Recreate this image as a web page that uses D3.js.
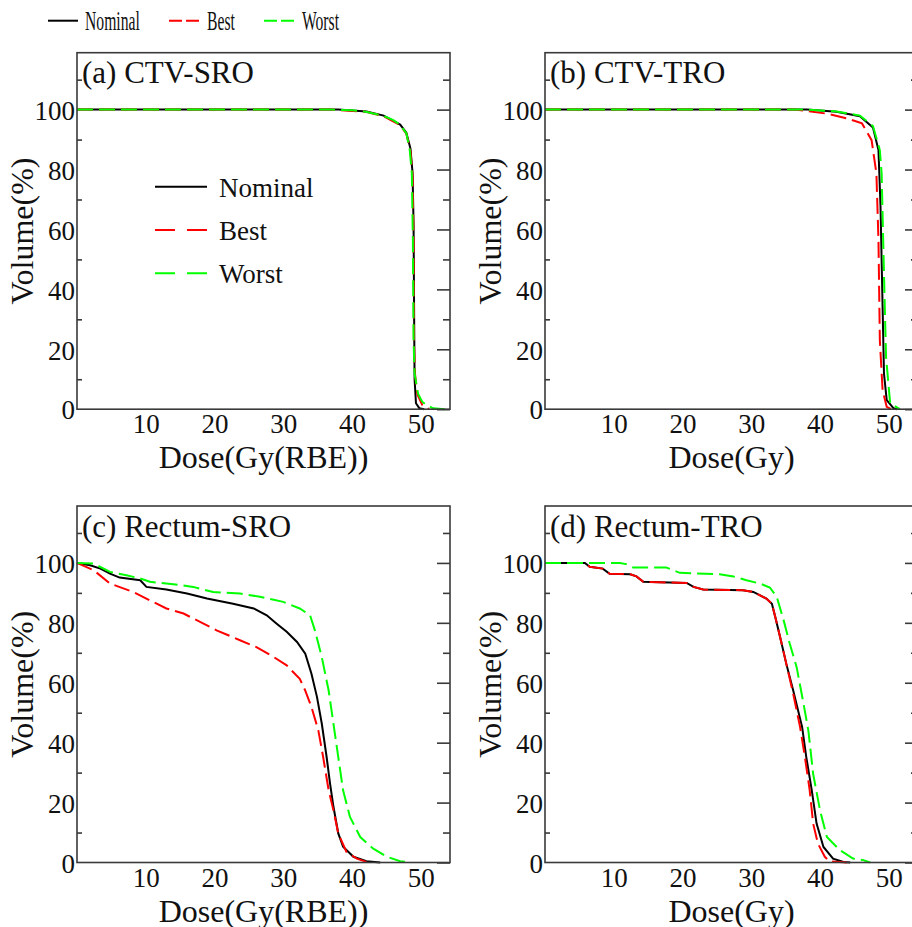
<!DOCTYPE html>
<html>
<head>
<meta charset="utf-8">
<script src="https://cdn.jsdelivr.net/npm/d3@7"></script>
<style>
  body { margin: 0; background: #fff; }
  svg { display: block; font-family: "Liberation Serif", "Times New Roman", serif; }
</style>
</head>
<body>
<div id="chart"></div>
<script>
// ---- data: [dose, volume %] ----
const ctvSroNominal = [[0,100],[38,100],[42.1,99.4],[44.6,98],[47,95],[47.9,92.3],[48.5,87],[48.8,79],[48.95,62],[49.05,25],[49.1,10],[49.3,2],[49.8,0.3],[50.5,0]]
const ctvSroBest = [[0,100],[37,100],[42,99.3],[44.6,97.8],[47,94.8],[47.9,92],[48.5,86],[48.8,78],[48.95,56],[49.0,23],[49.15,12],[49.5,5],[50.2,1.5],[51.2,0]]
const ctvSroWorst = [[0,100],[37,100],[40,99.8],[42,99.3],[44.6,97.9],[46,96.5],[47,94.9],[47.9,92.1],[48.4,86.5],[48.7,78.7],[48.85,56.5],[48.95,23],[49.1,11.9],[49.6,5.2],[50.2,2.5],[50.9,1.3],[51.8,0.3],[53.5,0]]

const ctvTroNominal = [[0,100],[38.1,100],[42.4,99.3],[45.8,97.8],[47.7,94],[48.5,86.5],[48.8,67.6],[49.1,34.2],[49.3,11.9],[49.7,3],[50.7,0.3],[51.2,0]]
const ctvTroBest = [[0,100],[36.4,100],[41.2,98.6],[44,97],[46.1,95.4],[47.5,89.8],[48.2,78.7],[48.5,56.5],[48.7,23],[49.1,6.3],[49.7,0.8],[50.4,0]]
const ctvTroWorst = [[0,100],[38.1,100],[42.4,99.4],[45.8,98],[47.7,94.5],[48.7,86.5],[48.96,78.7],[49.3,45.3],[49.6,17.5],[50.2,2],[51.6,0]]

const rectumSroNominal = [[0,100],[1.9,99.2],[3.4,98.1],[4.8,96.4],[6.2,95.1],[9.2,94.2],[10.1,92],[13,91.1],[16,89.8],[18.9,88.1],[22.7,86.4],[25.7,84.8],[27.6,82.5],[29,79.8],[30.5,77],[32,73.6],[33.2,69.7],[34.1,63],[34.9,55.3],[35.6,46.4],[36.3,35.3],[36.8,26.4],[37.3,18.6],[38,9.7],[38.7,5.3],[40.2,1.9],[42.1,0.4],[44.1,0]]
const rectumSroBest = [[0,100],[2.4,97.6],[4.8,93.1],[8.2,90.3],[10.6,87.5],[13,84.8],[15.5,83.1],[17.9,80.3],[20.3,77.5],[23.7,74.2],[26.1,71.9],[28.6,68.6],[30.5,65.8],[32.4,61.3],[33.2,57.4],[34.1,51.9],[35.1,44.1],[35.8,35.2],[36.6,24.1],[37.3,17.4],[38,9.7],[39.2,3.5],[40.7,1.3],[42.1,0.2],[42.6,0]]
const rectumSroWorst = [[0,100],[2.4,99.8],[4.8,97],[7.2,95.9],[9.2,94.8],[10.6,93.7],[14,92.9],[16.9,92],[19.8,90.3],[23.7,89.8],[26.6,88.7],[30,87],[32.4,84.8],[33.9,82.5],[34.6,77.5],[35.6,68.6],[36.6,57.4],[37.3,46.3],[38,35.2],[38.7,24.1],[39.7,15.2],[41.2,8.5],[43.1,4.6],[45.1,1.9],[47,0.4],[48.5,0]]

const rectumTroNominal = [[0,100],[5.8,100],[6.5,98.7],[8.4,98.1],[9.4,96.4],[12.4,96.2],[13.3,95.5],[14.3,93.7],[20.6,93.3],[21.6,92],[23,91.1],[28.8,90.9],[30.3,90.3],[32.2,88.1],[33,86.4],[33.5,81.9],[34.2,75.2],[35.1,66.3],[36.1,57.4],[37.4,45.2],[38,35.2],[38.8,24.1],[39.5,13],[40.5,5.2],[41.9,1.3],[43.4,0.2],[44.4,0]]
const rectumTroBest = [[0,100],[5.8,100],[6.5,98.7],[8.4,98.1],[9.4,96.4],[12.4,96.2],[13.3,95.5],[14.3,93.7],[20.6,93.3],[21.6,92],[23,91.1],[28.8,90.9],[30.3,90.3],[32.2,88.1],[33,86.4],[33.5,81.9],[34.2,75.2],[35.1,66.3],[36.1,56.3],[37.1,45.2],[37.8,35.2],[38.5,24.1],[39,13],[39.7,6.3],[40.7,1.9],[41.4,0.4],[43.9,0]]
const rectumTroWorst = [[0,100],[10.9,100],[11.8,99.6],[12.8,98.5],[17.6,98.5],[19.6,96.7],[25.4,96.2],[27.4,95.5],[29.3,94.2],[31.3,93.1],[32.7,91.8],[33.7,88.7],[34.7,80.9],[35.6,73],[36.6,65.2],[37.6,53],[38.3,44.1],[39,29.6],[40,17.4],[41,8.5],[42.9,4.1],[44.8,1.3],[46.3,0.8],[47.3,0]]

const seriesNames = ["Nominal", "Best", "Worst"]
const xTickValues = [10, 20, 30, 40, 50]
const yTickValues = [0, 20, 40, 60, 80, 100]
const yMinorTicks = [10, 30, 50, 70, 90, 110]

const panels = [
    {title: "(a) CTV-SRO", xLabel: "Dose(Gy(RBE))", series: [ctvSroNominal, ctvSroBest, ctvSroWorst], legend: true},
    {title: "(b) CTV-TRO", xLabel: "Dose(Gy)", series: [ctvTroNominal, ctvTroBest, ctvTroWorst]},
    {title: "(c) Rectum-SRO", xLabel: "Dose(Gy(RBE))", series: [rectumSroNominal, rectumSroBest, rectumSroWorst]},
    {title: "(d) Rectum-TRO", xLabel: "Dose(Gy)", series: [rectumTroNominal, rectumTroBest, rectumTroWorst]}
]

// ---- layout ----
const width = 912
const height = 927
const plotW = 373
const plotH = 356.5
const origins = [[77, 52.7], [545, 52.7], [77, 506], [545, 506]]
const colors = ["#000000", "#ff0000", "#00ff00"]
const dashes = [null, "16,6", "16,6"]
const frameColor = "#3a3a3a"

const xScale = d3.scaleLinear().domain([0, 54.25]).range([0, plotW])
const yScale = d3.scaleLinear().domain([0, 119]).range([plotH, 0])

const line = d3.line()
    .x(d => xScale(d[0]))
    .y(d => yScale(d[1]))

const svg = d3.select("#chart")
    .append("svg")
    .attr("width", width)
    .attr("height", height)

panels.forEach((p, i) => {
    const g = svg.append("g")
        .attr("transform", `translate(${origins[i][0]}, ${origins[i][1]})`)

    // curves: nominal first, best, worst on top
    p.series.forEach((s, k) => {
        g.append("path")
            .datum(s)
            .attr("fill", "none")
            .attr("stroke", colors[k])
            .attr("stroke-width", 2)
            .attr("stroke-dasharray", dashes[k])
            .attr("d", line)
    })

    // frame
    g.append("rect")
        .attr("width", plotW)
        .attr("height", plotH)
        .attr("fill", "none")
        .attr("stroke", frameColor)
        .attr("stroke-width", 1.6)

    // left axis: minor ticks only visible inside, labels outside
    const left = g.append("g")
        .call(d3.axisLeft(yScale).tickValues(yTickValues).tickSize(0).tickPadding(2))
    left.select(".domain").remove()
    left.selectAll("text")
        .attr("font-family", "Liberation Serif")
        .attr("font-size", 27)
        .attr("fill", "#111")
        .attr("dy", "0.36em")

    g.append("g")
        .call(d3.axisRight(yScale).tickValues(yMinorTicks).tickSize(5).tickFormat(""))
        .call(a => a.select(".domain").remove())
        .selectAll("line").attr("stroke", frameColor).attr("stroke-width", 1.6)

    // right axis: major + minor ticks inward
    g.append("g")
        .attr("transform", `translate(${plotW}, 0)`)
        .call(d3.axisLeft(yScale).tickValues(yTickValues).tickSize(13).tickFormat(""))
        .call(a => a.select(".domain").remove())
        .selectAll("line").attr("stroke", frameColor).attr("stroke-width", 1.6)
    g.append("g")
        .attr("transform", `translate(${plotW}, 0)`)
        .call(d3.axisLeft(yScale).tickValues(yMinorTicks).tickSize(7).tickFormat(""))
        .call(a => a.select(".domain").remove())
        .selectAll("line").attr("stroke", frameColor).attr("stroke-width", 1.6)

    // bottom axis: labels only
    const bottom = g.append("g")
        .attr("transform", `translate(0, ${plotH})`)
        .call(d3.axisBottom(xScale).tickValues(xTickValues).tickSize(0).tickPadding(0))
    bottom.select(".domain").remove()
    bottom.selectAll("text")
        .attr("font-family", "Liberation Serif")
        .attr("font-size", 27)
        .attr("fill", "#111")
        .attr("dy", null)
        .attr("y", 24)

    // title
    g.append("text")
        .attr("x", 5)
        .attr("y", 30.6)
        .attr("font-size", 31)
        .attr("fill", "#111")
        .text(p.title)

    // axis labels
    g.append("text")
        .attr("x", plotW / 2)
        .attr("y", plotH + 59)
        .attr("text-anchor", "middle")
        .attr("font-size", 32)
        .attr("fill", "#111")
        .text(p.xLabel)

    g.append("text")
        .attr("transform", `translate(-44, ${plotH / 2}) rotate(-90)`)
        .attr("text-anchor", "middle")
        .attr("font-size", 32)
        .attr("fill", "#111")
        .text("Volume(%)")

    // inner legend (panel a only)
    if (p.legend) {
        const leg = g.append("g").attr("transform", "translate(78, 134)")
        seriesNames.forEach((name, k) => {
            const row = leg.append("g").attr("transform", `translate(0, ${k * 43.3})`)
            row.append("line")
                .attr("x1", 0).attr("x2", 52)
                .attr("stroke", colors[k])
                .attr("stroke-width", 2)
                .attr("stroke-dasharray", k ? "20,12" : null)
            row.append("text")
                .attr("x", 64)
                .attr("y", 10)
                .attr("font-size", 27)
                .attr("fill", "#111")
                .text(name)
        })
    }
})

// top legend (narrow, tall text)
const topLegend = [{x: 48, tx: 85}, {x: 169, tx: 207}, {x: 264, tx: 302}]
seriesNames.forEach((name, k) => {
    svg.append("line")
        .attr("x1", topLegend[k].x).attr("x2", topLegend[k].x + 30)
        .attr("y1", 20.7).attr("y2", 20.7)
        .attr("stroke", colors[k])
        .attr("stroke-width", 2)
        .attr("stroke-dasharray", k ? "13,4" : null)
    svg.append("text")
        .attr("transform", `translate(${topLegend[k].tx}, 30) scale(0.58, 1)`)
        .attr("font-size", 27)
        .attr("fill", "#111")
        .text(name)
})
</script>
</body>
</html>
